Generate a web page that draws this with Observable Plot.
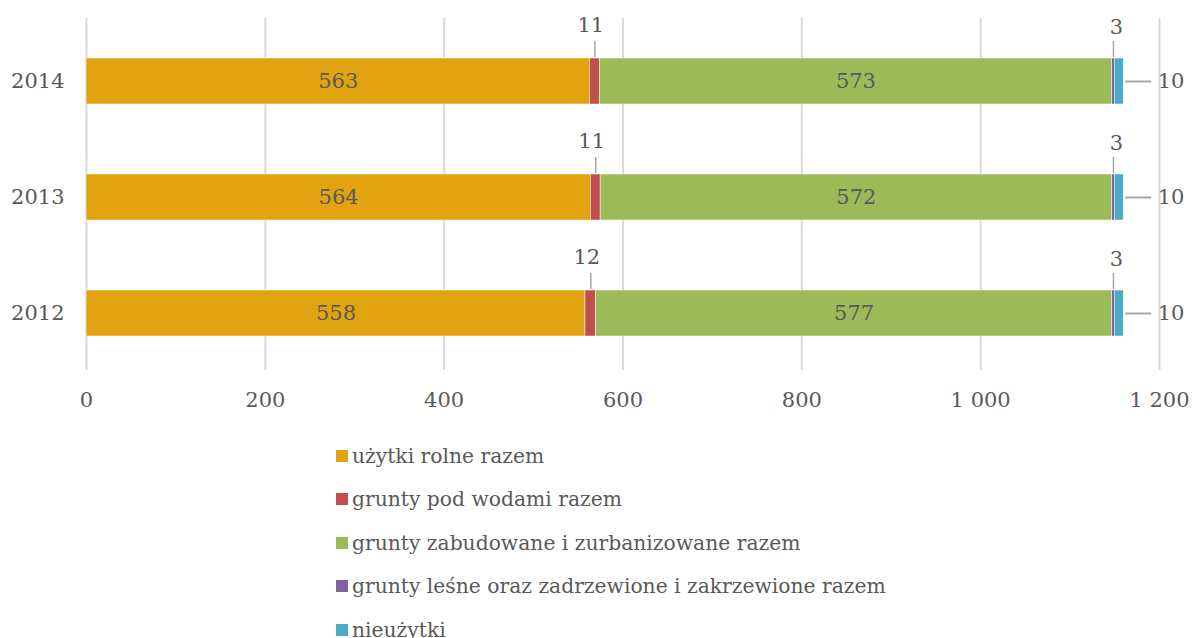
<!DOCTYPE html>
<html><head><meta charset="utf-8">
<script src="https://cdn.jsdelivr.net/npm/d3@7"></script>
<script src="https://cdn.jsdelivr.net/npm/@observablehq/plot@0.6"></script>
<style>
body{margin:0;background:#fff;font-family:"DejaVu Serif",serif;color:#595959}
#legend{padding-top:14px;margin-left:336px}
.li{height:43.5px;display:flex;align-items:center;font-size:20.3px;color:#595959}
.sw{width:12px;height:12px;margin-right:4px;flex:none}
</style></head>
<body><div id="chart"></div><div id="legend"></div>
<script>
const years = ["2014","2013","2012"];
const categories = ["użytki rolne razem","grunty pod wodami razem","grunty zabudowane i zurbanizowane razem","grunty leśne oraz zadrzewione i zakrzewione razem","nieużytki"];
const colors = ["#E1A30F","#C0504D","#9BBB59","#8064A2","#4BACC6"];
const rolne = [563,564,558];
const wody = [11,11,12];
const zabud = [573,572,577];
const lesne = [3,3,3];
const nieuz = [10,10,10];
const xTicks = [0,200,400,600,800,1000,1200];

const series = [rolne,wody,zabud,lesne,nieuz];
const data = [];
years.forEach((y,i)=>categories.forEach((c,j)=>data.push({year:y,cat:c,value:series[j][i],idx:j})));
const wodyCall = years.map((y,i)=>({year:y, x: rolne[i]+wody[i]/2, t: String(wody[i])}));
const lesneCall = years.map((y,i)=>({year:y, x: rolne[i]+wody[i]+zabud[i]+lesne[i]/2, t: String(lesne[i])}));
const nieuzCall = years.map((y,i)=>({year:y, x: rolne[i]+wody[i]+zabud[i]+lesne[i]+nieuz[i], t: String(nieuz[i])}));
const BW = 46;
const FONT = "DejaVu Serif, serif";

const chart = Plot.plot({
  width:1192, height:420,
  marginLeft:86, marginRight:33, marginTop:18, marginBottom:50,
  style:{fontFamily:FONT, fontSize:"21px", color:"#595959", background:"#fff"},
  x:{domain:[0,1200], ticks:xTicks, tickFormat:d=>d3.format(",")(d).replace(/,/g," "), tickSize:0, tickPadding:22, label:null},
  y:{domain:years, range:[21.75,371.25], paddingInner:0.605, paddingOuter:0.3, tickSize:0, tickPadding:22, label:null},
  color:{domain:categories, range:colors},
  marks:[
    Plot.ruleX(xTicks,{stroke:"#d9d9d9", strokeWidth:2}),
    Plot.barX(data, Plot.stackX({x:"value", y:"year", fill:"cat", z:"cat", order:null, stroke:"#fff", strokeWidth:0.5})),
    Plot.textX(data, Plot.stackX({x:"value", y:"year", z:"cat", order:null, text:d=>(d.idx===0||d.idx===2)?String(d.value):"", fill:"#595959", fontSize:21})),
    Plot.ruleX(wodyCall,{x:"x", y1:"year", y2:"year", insetTop:-17, insetBottom:BW+1, stroke:"#a6a6a6", strokeWidth:1.5}),
    Plot.textX(wodyCall,{x:"x", y:"year", text:"t", dy:-56, dx:-4, fill:"#595959", fontSize:21}),
    Plot.ruleX(lesneCall,{x:"x", y1:"year", y2:"year", insetTop:-17, insetBottom:BW+1, stroke:"#a6a6a6", strokeWidth:1.5}),
    Plot.textX(lesneCall,{x:"x", y:"year", text:"t", dy:-54, dx:3, fill:"#595959", fontSize:21}),
    Plot.ruleY(nieuzCall,{x1:"x", x2:"x", y:"year", insetLeft:2, insetRight:-28, stroke:"#a6a6a6", strokeWidth:2}),
    Plot.textX(nieuzCall,{x:"x", y:"year", text:"t", dx:34, textAnchor:"start", fill:"#595959", fontSize:21})
  ]
});
document.getElementById("chart").appendChild(chart);
const leg = document.getElementById("legend");
categories.forEach((c,i)=>{
  const d=document.createElement("div"); d.className="li";
  d.innerHTML=`<span class="sw" style="background:${colors[i]}"></span><span>${c}</span>`;
  leg.appendChild(d);
});
</script></body></html>
